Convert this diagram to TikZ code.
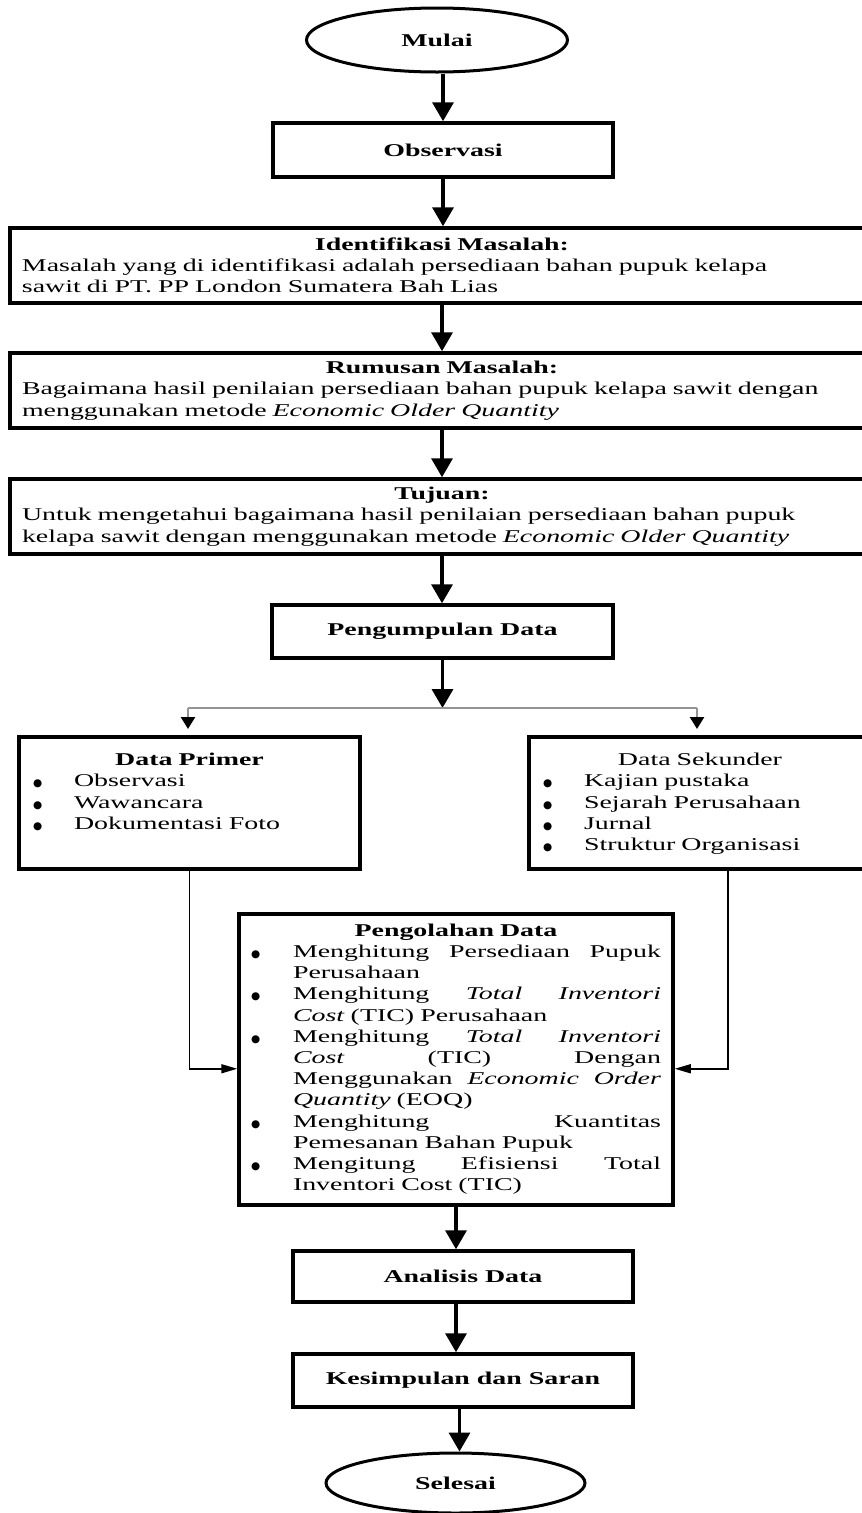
\documentclass[tikz,border=0pt]{standalone}
\usepackage{fontspec}
\setmainfont{Liberation Serif}[FakeStretch=1.55]
\newfontfamily\dotfont{DejaVu Sans}
\usetikzlibrary{arrows.meta,shapes.geometric,calc}
\newcommand{\bul}[1]{\makebox[#1][l]{{\dotfont\fontsize{10.5}{10.5}\selectfont ●}}}
\newcommand{\jl}[1]{\hbox to 368pt{#1}}
\begin{document}
\begin{tikzpicture}[x=1pt,y=-1pt,
  every node/.style={font=\fontsize{18}{21.2}\selectfont},
  box/.style={draw,line width=3.5pt,rectangle,inner sep=0pt,align=center},
  textbox/.style={draw,line width=3.5pt,rectangle,inner xsep=12pt,inner ysep=0pt,align=left},
  term/.style={draw,ellipse,line width=3pt,inner sep=0pt},
  flow/.style={line width=3.5pt,-{Triangle[length=19pt,width=21pt]}},
  side/.style={line width=1.6pt,-{Triangle[length=16pt,width=9pt]}},
  grayline/.style={line width=2.5pt,draw=black!42},
  branch/.style={line width=2.5pt,draw=black!42,shorten >=6pt,-{Triangle[length=12pt,width=14pt,color=black]}},
]
\useasboundingbox (0,0) rectangle (862,1513);

\node[term,minimum width=261pt,minimum height=64pt] (mulai) at (437,40) {\bfseries Mulai};
\node[box,minimum width=340pt,minimum height=54pt] (obs) at (443,150) {\bfseries Observasi};
\node[textbox,text width=840pt,minimum height=75pt] (ident) at (442,265.5)
  {\makebox[\linewidth]{\bfseries Identifikasi Masalah:}\\
   Masalah yang di identifikasi adalah persediaan bahan pupuk kelapa\\
   sawit di PT. PP London Sumatera Bah Lias};
\node[textbox,text width=840pt,minimum height=75pt] (rumus) at (442,390.5)
  {\makebox[\linewidth]{\bfseries Rumusan Masalah:}\\
   Bagaimana hasil penilaian persediaan bahan pupuk kelapa sawit dengan\\
   menggunakan metode \textit{Economic Older Quantity}};
\node[textbox,text width=840pt,minimum height=75pt] (tuj) at (442,516.5)
  {\makebox[\linewidth]{\bfseries Tujuan:}\\
   Untuk mengetahui bagaimana hasil penilaian persediaan bahan pupuk\\
   kelapa sawit dengan menggunakan metode \textit{Economic Older Quantity}};
\node[box,minimum width=341pt,minimum height=53pt] (peng) at (442.5,631.5) {\bfseries Pengumpulan Data};

\node[textbox,inner xsep=14pt,text width=313pt,anchor=north,inner ysep=17pt,
      text height=12pt,text depth=86pt] (prim) at (189.5,735)
  {\makebox[\linewidth]{\bfseries Data Primer}\\
   \bul{41pt}Observasi\\
   \bul{41pt}Wawancara\\
   \bul{41pt}Dokumentasi Foto};
\node[textbox,inner xsep=14pt,text width=314pt,anchor=north,inner ysep=17pt,
      text height=12pt,text depth=86pt] (sek) at (700,735)
  {\makebox[\linewidth]{Data Sekunder}\\
   \bul{41pt}Kajian pustaka\\
   \bul{41pt}Sejarah Perusahaan\\
   \bul{41pt}Jurnal\\
   \bul{41pt}Struktur Organisasi};

\node[textbox,text width=410pt,minimum height=291pt,anchor=north] (olah) at (456,912)
  {\makebox[\linewidth]{\bfseries Pengolahan Data}\\
   \bul{42pt}\jl{Menghitung\hfill Persediaan\hfill Pupuk}\\
   \hspace*{42pt}Perusahaan\\
   \bul{42pt}\jl{Menghitung\hfill\textit{Total}\hfill\textit{Inventori}}\\
   \hspace*{42pt}\textit{Cost} (TIC) Perusahaan\\
   \bul{42pt}\jl{Menghitung\hfill\textit{Total}\hfill\textit{Inventori}}\\
   \hspace*{42pt}\jl{\textit{Cost}\hfill(TIC)\hfill Dengan}\\
   \hspace*{42pt}\jl{Menggunakan\hfill\textit{Economic}\hfill\textit{Order}}\\
   \hspace*{42pt}\textit{Quantity} (EOQ)\\
   \bul{42pt}\jl{Menghitung\hfill Kuantitas}\\
   \hspace*{42pt}Pemesanan Bahan Pupuk\\
   \bul{42pt}\jl{Mengitung\hfill Efisiensi\hfill Total}\\
   \hspace*{42pt}Inventori Cost (TIC)};

\node[box,minimum width=340pt,minimum height=51pt] (ana) at (463,1276.5) {\bfseries Analisis Data};
\node[box,minimum width=340pt,minimum height=53pt] (kes) at (463,1380.5) {\bfseries Kesimpulan dan Saran};
\node[term,minimum width=259pt,minimum height=60pt] (sel) at (455.5,1483) {\bfseries Selesai};

\coordinate (j) at (442.5,708);
\coordinate (jl) at (188,708);
\coordinate (jr) at (697,708);
\coordinate (sk) at ($(sek.south)+(28,0)$);
\coordinate (st) at ($(sel.north)+(4,0)$);

\draw[flow] (obs.north |- mulai.south) -- (obs.north);
\draw[flow] (obs.south) -- (obs.south |- ident.north);
\draw[flow] (ident.south) -- (rumus.north);
\draw[flow] (rumus.south) -- (tuj.north);
\draw[flow] (tuj.south) -- (tuj.south |- peng.north);
\draw[flow] (peng.south) -- (j);
\draw[grayline] (jl) -- (jr);
\draw[branch] (jl) -- (jl |- prim.north);
\draw[branch] (jr) -- (jr |- sek.north);
\draw[side] (prim.south) |- ($(olah.west)+(0,9.5)$);
\draw[side] (sk) |- ($(olah.east)+(0,9.5)$);
\draw[flow] (olah.south) -- (olah.south |- ana.north);
\draw[flow] (olah.south |- ana.south) -- (olah.south |- kes.north);
\draw[flow] (st |- kes.south) -- (st);
\end{tikzpicture}
\end{document}
